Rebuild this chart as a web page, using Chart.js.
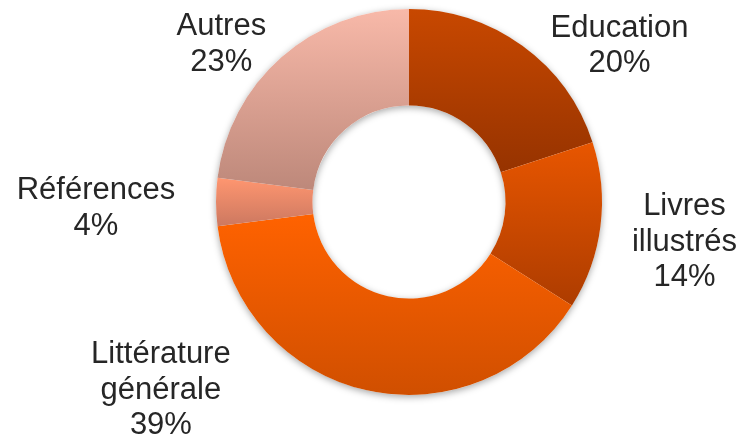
<!DOCTYPE html>
<html>
<head>
<meta charset="utf-8">
<script src="https://cdn.jsdelivr.net/npm/chart.js@4/dist/chart.umd.min.js"></script>
<style>
html,body{margin:0;padding:0;background:#fff;}
#wrap{width:740px;height:440px;position:relative;}
</style>
</head>
<body>
<div id="wrap"><canvas id="c" width="740" height="440"></canvas></div>
<script>
// ---- data ----
const categories = [["Education"], ["Livres", "illustrés"], ["Littérature", "générale"], ["Références"], ["Autres"]];
const shares = [20, 14, 39, 4, 23];
const percentLabels = ["20%", "14%", "39%", "4%", "23%"];

// ---- style ----
const gradientStops = [
  ["#c84800", "#963300"],
  ["#e85600", "#ad3c00"],
  ["#ff6200", "#d04f00"],
  ["#ff9670", "#cc7860"],
  ["#f8b9a9", "#bd887a"]
];
const labelOffsets = [[97, -9], [84, -11], [-206, -27], [-120, -3], [-60, -22]];

function sliceGradient(ctx) {
  const i = ctx.dataIndex;
  const stops = gradientStops[i];
  const chart = ctx.chart, area = chart.chartArea;
  if (!area) return stops[0];
  const cx = (area.left + area.right) / 2, cy = (area.top + area.bottom) / 2;
  const R = Math.min(area.right - area.left, area.bottom - area.top) / 2, r = R * 0.5;
  const data = ctx.dataset.data;
  const total = data.reduce((a, b) => a + b, 0);
  let before = 0;
  for (let k = 0; k < i; k++) before += data[k];
  const a0 = -Math.PI / 2 + 2 * Math.PI * before / total;
  const a1 = a0 + 2 * Math.PI * data[i] / total;
  const ys = [cy + R * Math.sin(a0), cy + R * Math.sin(a1), cy + r * Math.sin(a0), cy + r * Math.sin(a1)];
  if (a0 <= Math.PI / 2 && a1 >= Math.PI / 2) ys.push(cy + R);
  if ((a0 <= -Math.PI / 2 && a1 >= -Math.PI / 2) || (a0 <= 1.5 * Math.PI && a1 >= 1.5 * Math.PI)) ys.push(cy - R);
  const y0 = Math.min(...ys), y1 = Math.max(...ys);
  const g = chart.ctx.createLinearGradient(0, y0, 0, Math.max(y1, y0 + 1));
  g.addColorStop(0, stops[0]);
  g.addColorStop(1, stops[1]);
  return g;
}

const ringShadow = {
  id: 'ringShadow',
  beforeDatasetsDraw(chart) {
    const meta = chart.getDatasetMeta(0);
    const a = meta.data[0];
    if (!a) return;
    const ctx = chart.ctx;
    ctx.save();
    ctx.shadowColor = 'rgba(0,0,0,0.35)';
    ctx.shadowBlur = 7;
    ctx.shadowOffsetX = 0;
    ctx.shadowOffsetY = 2;
    ctx.fillStyle = '#ffffff';
    ctx.beginPath();
    ctx.arc(a.x, a.y, a.outerRadius, 0, Math.PI * 2);
    ctx.arc(a.x, a.y, a.innerRadius, 0, Math.PI * 2, true);
    ctx.closePath();
    ctx.fill('evenodd');
    ctx.restore();
  }
};

const outsideLabels = {
  id: 'outsideLabels',
  afterDatasetsDraw(chart) {
    const meta = chart.getDatasetMeta(0);
    const ctx = chart.ctx;
    ctx.save();
    ctx.font = '31px "Liberation Sans", Arial, sans-serif';
    ctx.fillStyle = '#262626';
    ctx.textAlign = 'center';
    ctx.textBaseline = 'alphabetic';
    const lineH = 35.5;
    meta.data.forEach((arc, i) => {
      const mid = (arc.startAngle + arc.endAngle) / 2;
      const ax = arc.x + arc.outerRadius * Math.cos(mid);
      const ay = arc.y + arc.outerRadius * Math.sin(mid);
      const x = ax + labelOffsets[i][0];
      const y = ay + labelOffsets[i][1];
      const lines = categories[i].concat([percentLabels[i]]);
      lines.forEach((t, k) => ctx.fillText(t, x, y + k * lineH));
    });
    ctx.restore();
  }
};

new Chart(document.getElementById('c'), {
  type: 'doughnut',
  data: {
    labels: categories.map(c => c.join(' ')),
    datasets: [{
      data: shares,
      backgroundColor: sliceGradient,
      borderWidth: 0,
      hoverOffset: 0
    }]
  },
  options: {
    responsive: false,
    animation: false,
    cutout: '50%',
    layout: { padding: { top: 9, bottom: 45, left: 78, right: 0 } },
    plugins: {
      legend: { display: false },
      tooltip: { enabled: false }
    }
  },
  plugins: [ringShadow, outsideLabels]
});
</script>
</body>
</html>
